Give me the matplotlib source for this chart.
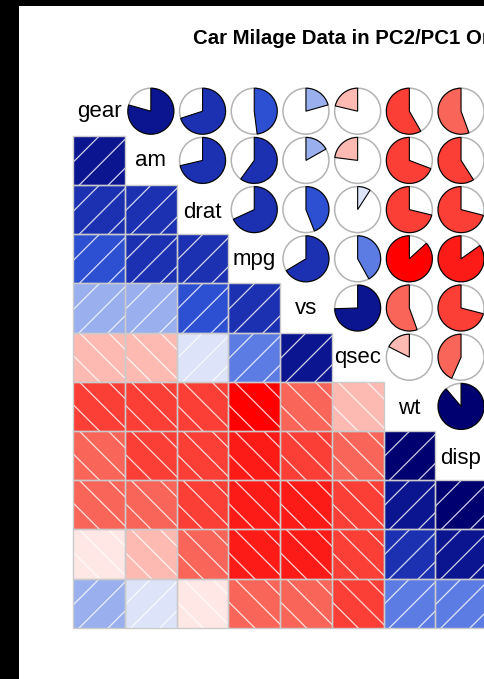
import numpy as np
import matplotlib
matplotlib.use("Agg")
import matplotlib.pyplot as plt
from matplotlib.patches import Rectangle, Wedge, Circle
from matplotlib.textpath import TextPath
from matplotlib.font_manager import FontProperties

# ---- data -----------------------------------------------------------------
title = "Car Milage Data in PC2/PC1 Order"
variables = ["gear", "am", "drat", "mpg", "vs", "qsec", "wt", "disp", "cyl", "hp", "carb"]

# correlation of each variable with the ones listed after it
r_gear = [0.794, 0.700, 0.480, 0.206, -0.213, -0.583, -0.556, -0.493, -0.126, 0.274]
r_am = [0.713, 0.600, 0.168, -0.230, -0.692, -0.591, -0.523, -0.243, 0.058]
r_drat = [0.681, 0.440, 0.091, -0.712, -0.710, -0.700, -0.449, -0.091]
r_mpg = [0.664, 0.419, -0.868, -0.848, -0.852, -0.776, -0.551]
r_vs = [0.745, -0.555, -0.710, -0.811, -0.723, -0.570]
r_qsec = [-0.175, -0.434, -0.591, -0.708, -0.656]
r_wt = [0.888, 0.782, 0.659, 0.428]
r_disp = [0.902, 0.791, 0.395]
r_cyl = [0.832, 0.527]
r_hp = [0.750]

upper_rows = [r_gear, r_am, r_drat, r_mpg, r_vs, r_qsec, r_wt, r_disp, r_cyl, r_hp]
palette_anchors = ["#FF0000", "#FA8072", "#FFFFFF", "#4169E1", "#000080"]  # red, salmon, white, royalblue, navy
n_colors = 14
tone_gamma = 1.2   # deeper rendering of the mid tones

# ---- correlation matrix ---------------------------------------------------
n = len(variables)
corr = np.eye(n)
for i, row in enumerate(upper_rows):
    for k, v in enumerate(row):
        j = i + 1 + k
        corr[i, j] = corr[j, i] = v

# ---- colour ramp (linear in RGB between anchors) --------------------------
def hex_rgb(h):
    return np.array([int(h[i:i + 2], 16) for i in (1, 3, 5)], dtype=float)


def toned(rgb255):
    return tuple((np.asarray(rgb255, dtype=float) / 255.0) ** tone_gamma)


anchor_rgb = np.array([hex_rgb(h) for h in palette_anchors])
anchor_pos = np.linspace(0, 1, len(palette_anchors))
pal = []
for t in np.linspace(0, 1, n_colors):
    rgb = [np.interp(t, anchor_pos, anchor_rgb[:, c]) for c in range(3)]
    pal.append(toned(np.round(rgb)))

breaks = np.linspace(-1, 1, n_colors + 1)


def colour_for(r):
    idx = int(np.searchsorted(breaks, r, side="left"))
    idx = min(max(idx, 1), n_colors)
    return pal[idx - 1]


grid_grey = toned([211, 211, 211])
ring_grey = toned([190, 190, 190])

# ---- figure ---------------------------------------------------------------
W, H = 484, 679
fig = plt.figure(figsize=(W / 100, H / 100), dpi=100)
ax = fig.add_axes([0, 0, 1, 1])
ax.set_xlim(0, W)
ax.set_ylim(0, H)
ax.axis("off")

X0 = 73.3          # left edge of the grid
Y_TOP = H - 86.6   # top edge of the grid
CW, CH = 51.7, 49.2
PIE_R = 23.0
HATCH_STEP = 29.0
HATCH_PHASE = 6.0

font = "Liberation Sans"
label_size = 16
label_prop = FontProperties(family=font, size=label_size)


def cell_box(i, j):
    left = X0 + j * CW
    top = Y_TOP - i * CH
    return left, top - CH, left + CW, top


def shade_cell(i, j, r):
    l, b, rt, t = cell_box(i, j)
    ax.add_patch(Rectangle((l, b), CW, CH, facecolor=colour_for(r), edgecolor="none", zorder=1))
    clip = Rectangle((l, b), CW, CH, transform=ax.transData, facecolor="none", edgecolor="none")
    ax.add_patch(clip)
    span = CW + CH
    for k in range(-4, 6):
        c = l + HATCH_PHASE + k * HATCH_STEP
        xs = np.array([c - span, c + span])
        if r > 0:
            ys = b + (xs - c)
        else:
            ys = t - (xs - c)
        ln, = ax.plot(xs, ys, color="white", lw=0.9, alpha=0.8, zorder=2,
                      solid_capstyle="butt")
        ln.set_clip_path(clip)
    ax.add_patch(Rectangle((l, b), CW, CH, facecolor="none", edgecolor=grid_grey,
                           lw=1.0, zorder=3))


def pie_cell(i, j, r):
    l, b, rt, t = cell_box(i, j)
    cx, cy = (l + rt) / 2, (b + t) / 2
    ax.add_patch(Circle((cx, cy), PIE_R, facecolor="none", edgecolor=ring_grey, lw=1.1, zorder=2))
    sweep = 360 * abs(r)
    if r > 0:
        th1, th2 = 90 - sweep, 90
    else:
        th1, th2 = 90, 90 + sweep
    ax.add_patch(Wedge((cx, cy), PIE_R, th1, th2, facecolor=colour_for(r),
                       edgecolor="black", lw=0.8, zorder=3))


def label_cell(i, name):
    l, b, rt, t = cell_box(i, i)
    if l >= W:
        return  # diagonal cell lies past the right edge of the canvas
    cx, cy = (l + rt) / 2, (b + t) / 2
    # centre the ink above the baseline vertically, as R's text() does
    tp = TextPath((0, 0), name, prop=label_prop)
    ascent_px = tp.get_extents().y1 * 100 / 72
    ax.text(cx, cy - ascent_px / 2, name, ha="center", va="baseline",
            fontsize=label_size, family=font, color="black", zorder=4)


for i in range(n):
    for j in range(n):
        if i == j:
            label_cell(i, variables[i])
        elif j < i:
            shade_cell(i, j, corr[i, j])
        else:
            pie_cell(i, j, corr[i, j])

# title centred over the full grid
ax.text(X0 + n * CW / 2, H - 44, title, ha="center", va="baseline",
        fontsize=14.7, fontweight="bold", family=font, color="black")

# dark frame along the left and top edges
ax.add_patch(Rectangle((0, 0), 18.5, H, facecolor="black", edgecolor="none", zorder=10))
ax.add_patch(Rectangle((0, H - 6), W, 6, facecolor="black", edgecolor="none", zorder=10))

fig.savefig("out.png", dpi=100, facecolor="white")
